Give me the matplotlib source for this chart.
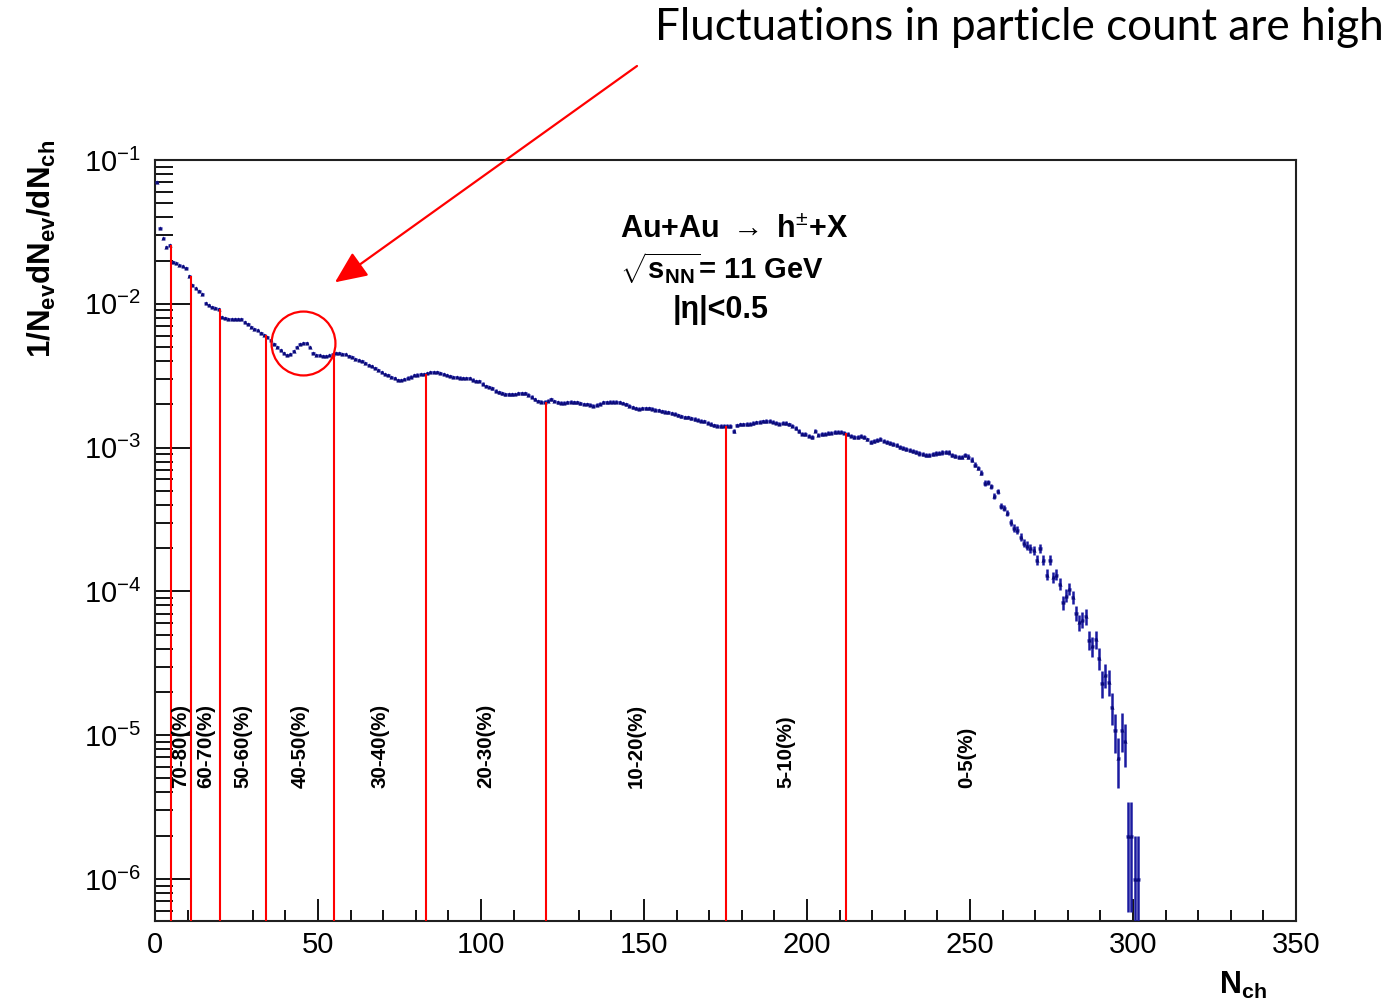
import numpy as np
import matplotlib
matplotlib.use('Agg')
import matplotlib.pyplot as plt
from matplotlib.ticker import LogLocator, MultipleLocator, NullFormatter

plt.rcParams['font.family'] = ['Liberation Sans', 'DejaVu Sans']
plt.rcParams['mathtext.fontset'] = 'custom'
plt.rcParams['mathtext.rm'] = 'Liberation Sans'
plt.rcParams['mathtext.it'] = 'Liberation Sans:italic'
plt.rcParams['mathtext.bf'] = 'Liberation Sans:bold'

# ---------------- data ----------------
N_EV = 1.0e6  # number of events (for Poisson errors)

# 1/Nev dNev/dNch in units of 1e-3, one value per Nch bin (width 1) starting at 0
dndn_1e3 = [
    69.8, 33.4, 28.5, 25.0, 25.7, 19.6, 19.1, 18.6, 18.2, 17.8,
    15.7, 13.6, 12.8, 12.2, 11.7, 10.2, 9.81, 9.50, 9.38, 9.23,
    8.12, 7.96, 7.90, 7.86, 7.86, 7.86, 7.86, 7.53, 7.29, 6.92,
    6.68, 6.52, 6.31, 6.11, 5.87, 5.60, 5.29, 5.00, 4.77, 4.58,
    4.40, 4.47, 4.73, 5.00, 5.25, 5.38, 5.34, 4.97, 4.55, 4.40,
    4.37, 4.35, 4.32, 4.37, 4.44, 4.56, 4.53, 4.49, 4.44, 4.35,
    4.26, 4.14, 4.06, 3.99, 3.89, 3.78, 3.68, 3.57, 3.47, 3.35,
    3.27, 3.19, 3.10, 3.03, 2.96, 2.94, 3.00, 3.07, 3.12, 3.18,
    3.22, 3.26, 3.27, 3.31, 3.34, 3.34, 3.34, 3.31, 3.27, 3.21,
    3.13, 3.11, 3.08, 3.07, 3.05, 3.05, 3.03, 2.97, 2.92, 2.89,
    2.79, 2.69, 2.64, 2.58, 2.49, 2.42, 2.38, 2.34, 2.34, 2.34,
    2.36, 2.38, 2.38, 2.38, 2.33, 2.26, 2.17, 2.11, 2.08, 2.08,
    2.12, 2.16, 2.11, 2.06, 2.05, 2.05, 2.07, 2.08, 2.07, 2.07,
    2.03, 2.01, 2.01, 1.99, 1.96, 1.99, 2.02, 2.07, 2.07, 2.08,
    2.08, 2.08, 2.06, 2.04, 2.00, 1.95, 1.90, 1.88, 1.86, 1.87,
    1.87, 1.87, 1.86, 1.84, 1.82, 1.79, 1.77, 1.76, 1.74, 1.72,
    1.68, 1.65, 1.62, 1.62, 1.60, 1.58, 1.56, 1.54, 1.52, 1.49,
    1.46, 1.43, 1.42, 1.41, 1.42, 1.42, 1.41, 1.30, 1.43, 1.45,
    1.45, 1.46, 1.47, 1.48, 1.50, 1.51, 1.52, 1.53, 1.54, 1.51,
    1.49, 1.47, 1.49, 1.48, 1.45, 1.42, 1.37, 1.30, 1.25, 1.24,
    1.21, 1.19, 1.31, 1.23, 1.24, 1.25, 1.26, 1.27, 1.28, 1.29,
    1.29, 1.27, 1.24, 1.21, 1.18, 1.18, 1.20, 1.18, 1.14, 1.09,
    1.11, 1.13, 1.15, 1.12, 1.10, 1.08, 1.06, 1.04, 1.01, 0.987,
    0.973, 0.958, 0.945, 0.929, 0.910, 0.897, 0.888, 0.891, 0.904, 0.910,
    0.915, 0.925, 0.938, 0.925, 0.894, 0.873, 0.862, 0.862, 0.886, 0.866,
    0.825, 0.762, 0.722, 0.667, 0.568, 0.575, 0.538, 0.458, 0.496, 0.395,
    0.381, 0.351, 0.302, 0.276, 0.269, 0.239, 0.217, 0.208, 0.200, 0.193,
    0.166, 0.200, 0.166, 0.131, 0.166, 0.126, 0.131, 0.113, 0.0838, 0.0934,
    0.104, 0.0914, 0.0707, 0.0608, 0.0635, 0.067, 0.0461, 0.0414, 0.0466, 0.0344,
    0.0230, 0.0263, 0.0236, 0.0158, 0.0108, 0.00693, 0.0109, 0.00904, 0.002, 0.002,
    0.001, 0.001,
]

cent_cuts = [5, 11, 20, 34, 55, 83, 120, 175, 212]
cent_labels = ['70-80(%)', '60-70(%)', '50-60(%)', '40-50(%)', '30-40(%)',
               '20-30(%)', '10-20(%)', '5-10(%)', '0-5(%)']
cent_label_nch = [8, 15.5, 27, 44.5, 69, 101.5, 147.5, 193.5, 249]

x_ticks = [0, 50, 100, 150, 200, 250, 300, 350]

# ---------------- figure ----------------
W, H = 1394, 1005
fig = plt.figure(figsize=(W / 100, H / 100), dpi=100)
ax = fig.add_axes([155 / W, 1 - 921 / H, (1296 - 155) / W, (921 - 160) / H])

y = np.array(dndn_1e3) * 1e-3
nch = np.arange(len(y)) + 0.5
err = np.sqrt(y / N_EV)
err_lo = np.minimum(err, y * 0.999)

ax.set_yscale('log')
ax.set_xlim(0, 350)
ax.set_ylim(5.1e-7, 0.1)

ax.errorbar(nch, y, yerr=[err_lo, err], xerr=0.5, fmt='^', ms=3,
            color='#0b0b78', ecolor='#1a1aa0', elinewidth=1.8, capsize=0,
            mew=0, zorder=3)

# centrality cut lines
heights = [y[c - 1] for c in cent_cuts]
ax.vlines(cent_cuts, 1e-8, heights, colors='red', lw=1.5, zorder=4)

for xc, lab in zip(cent_label_nch, cent_labels):
    ax.text(xc, 4.3e-6, lab, rotation=90, ha='center', va='bottom',
            fontsize=14.8, fontweight='bold', zorder=5)

# axes styling
ax.set_xticks(x_ticks)
ax.xaxis.set_minor_locator(MultipleLocator(10))
ax.yaxis.set_major_locator(LogLocator(base=10, numticks=20))
ax.yaxis.set_minor_locator(LogLocator(base=10, subs=np.arange(2, 10), numticks=50))
ax.yaxis.set_minor_formatter(NullFormatter())
ax.tick_params(axis='both', which='both', direction='in', top=False, right=False,
               width=1.3, labelsize=21, colors='black')
ax.tick_params(axis='x', which='major', length=16, pad=7)
ax.tick_params(axis='x', which='minor', length=8)
ax.tick_params(axis='y', which='major', length=26, pad=10)
ax.tick_params(axis='y', which='minor', length=13)
for s in ax.spines.values():
    s.set_linewidth(1.5)
    s.set_color('#202020')

# axis titles
fig.text(42 / W, 1 - 140 / H, r'$\mathbf{1/N_{ev}dN_{ev}/dN_{ch}}$',
         rotation=90, ha='center', va='top', fontsize=22.5)
fig.text(1243 / W, 1 - 985 / H, r'$\mathbf{N_{ch}}$', ha='center', va='center',
         fontsize=22)

# physics labels
fig.text(620 / W, 1 - 230 / H, r'Au+Au $\rightarrow$ h$^{\pm}$+X', fontsize=22,
         fontweight='bold', ha='left', va='center')
fig.text(620 / W, 1 - 268 / H, r'$\sqrt{\mathbf{s}_{\mathbf{NN}}}$= 11 GeV',
         fontsize=21, fontweight='bold', ha='left', va='center')
fig.text(673 / W, 1 - 310 / H, '|η|<0.5', fontsize=22, fontweight='bold',
         ha='left', va='center')

# annotation
fig.text(655 / W, 1 - 28 / H, 'Fluctuations in particle count are high',
         fontsize=31.7, family=['Lato', 'DejaVu Sans'], ha='left', va='center')
ax.annotate('', xy=(55.2, 0.0141), xycoords='data',
            xytext=(637 / W, 1 - 66 / H), textcoords='figure fraction',
            arrowprops=dict(arrowstyle='-|>,head_length=0.9,head_width=0.4',
                            color='red', lw=1.6, mutation_scale=22,
                            shrinkA=0, shrinkB=0),
            annotation_clip=False)
ax.plot([45.4], [5.38e-3], 'o', ms=46, mfc='none', mec='red', mew=1.6,
        clip_on=False, zorder=6)

fig.savefig('out.png', dpi=100, facecolor='white')
